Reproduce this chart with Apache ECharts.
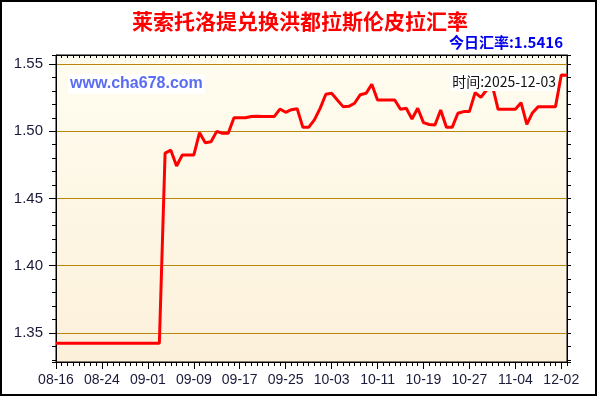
<!DOCTYPE html>
<html>
<head>
<meta charset="utf-8">
<script src="https://cdn.jsdelivr.net/npm/echarts@6/dist/echarts.min.js"></script>
<style>html,body{margin:0;padding:0;background:#fff;}#c{width:600px;height:400px;}</style>
</head>
<body>
<div id="c"></div>
<script>
var titleText = '莱索托洛提兑换洪都拉斯伦皮拉汇率';
var todayText = '今日汇率:1.5416';
var timeText = '时间:2025-12-03';
var siteText = 'www.cha678.com';

var dates = [
'08-16','08-17','08-18','08-19','08-20','08-21','08-22','08-23','08-24','08-25','08-26','08-27','08-28','08-29','08-30','08-31',
'09-01','09-02','09-03','09-04','09-05','09-06','09-07','09-08','09-09','09-10','09-11','09-12','09-13','09-14','09-15','09-16','09-17','09-18','09-19','09-20','09-21','09-22','09-23','09-24','09-25','09-26','09-27','09-28','09-29','09-30',
'10-01','10-02','10-03','10-04','10-05','10-06','10-07','10-08','10-09','10-10','10-11','10-12','10-13','10-14','10-15','10-16','10-17','10-18','10-19','10-20','10-21','10-22','10-23','10-24','10-25','10-26','10-27','10-28','10-29','10-30','10-31',
'11-01','11-02','11-03','11-04',
'11-25','11-26','11-27','11-28','11-29','11-30','12-01',
'12-02','12-03'
];

var rates = [
1.3423,1.3423,1.3423,1.3423,1.3423,1.3423,1.3423,1.3423,1.3423,1.3423,
1.3423,1.3423,1.3423,1.3423,1.3423,1.3423,1.3423,1.3423,1.3423,
1.4838,1.4859,1.4742,1.4823,1.4823,1.4823,1.4989,1.4915,1.4922,1.4999,
1.4985,1.4985,1.5101,1.5101,1.5101,1.5110,1.5112,1.5109,1.5109,1.5109,
1.5165,1.5141,1.5160,1.5168,1.5029,1.5029,1.5085,1.5170,1.5275,1.5282,
1.5232,1.5183,1.5185,1.5208,1.5272,1.5282,1.5349,1.5232,1.5232,1.5232,
1.5232,1.5163,1.5171,1.5091,1.5171,1.5064,1.5050,1.5047,1.5158,1.5029,
1.5029,1.5134,1.5146,1.5146,1.5287,1.5252,1.5307,1.5340,1.5163,1.5163,
1.5163,1.5163,1.5212,1.5051,1.5138,1.5183,1.5183,1.5183,1.5183,1.5418,
1.5416
];

var yMin = 1.3284, yMax = 1.5567;

var chart = echarts.init(document.getElementById('c'), null, {renderer: 'canvas'});
var numFont = '"Liberation Sans", Arial, sans-serif';
var cjkFont = '"Noto Sans CJK SC", sans-serif';
var labelColor = '#1a1a3a';

chart.setOption({
  animation: false,
  backgroundColor: '#fff',
  grid: {
    left: 56, right: 33, top: 55, bottom: 38,
    show: true,
    borderColor: '#000', borderWidth: 1,
    backgroundColor: new echarts.graphic.LinearGradient(0, 0, 0, 1, [
      {offset: 0, color: '#FFFDF0'},
      {offset: 1, color: '#FCF0DA'}
    ])
  },
  xAxis: [
    {
      type: 'category', position: 'bottom', data: dates, boundaryGap: false,
      axisLine: {show: true, lineStyle: {color: '#000', width: 1}},
      axisTick: {show: true, interval: 0, length: 4, lineStyle: {color: '#000'}},
      axisLabel: {interval: 7, margin: 11, color: labelColor, fontSize: 14, fontFamily: numFont},
      splitLine: {show: false}
    },
    {
      type: 'category', position: 'bottom', data: dates, boundaryGap: false,
      axisLine: {show: false},
      axisTick: {show: true, interval: 7, length: 7, lineStyle: {color: '#000'}},
      axisLabel: {show: false},
      splitLine: {show: false}
    },
    {
      type: 'category', position: 'top', data: dates, boundaryGap: false,
      axisLine: {show: true, lineStyle: {color: '#000'}},
      axisTick: {show: true, inside: true, interval: 0, length: 3, lineStyle: {color: '#000'}},
      axisLabel: {show: false},
      splitLine: {show: false}
    }
  ],
  yAxis: [
    {
      type: 'value', position: 'left', min: yMin, max: yMax, splitNumber: 5,
      axisLine: {show: true, lineStyle: {color: '#000'}},
      axisTick: {show: true, length: 7, lineStyle: {color: '#000'}},
      axisLabel: {
        showMinLabel: false, showMaxLabel: false, margin: 13,
        color: labelColor, fontSize: 15, fontFamily: numFont,
        formatter: function (v) { return v.toFixed(2); }
      },
      splitLine: {show: true, showMinLine: false, showMaxLine: false, lineStyle: {color: '#B8860B', width: 1}}
    },
    {
      type: 'value', position: 'left', min: yMin, max: yMax, minInterval: 0.01, maxInterval: 0.01,
      axisLine: {show: false},
      axisTick: {show: true, length: 4, lineStyle: {color: '#000'}},
      axisLabel: {show: false},
      splitLine: {show: false}
    },
    {
      type: 'value', position: 'right', min: yMin, max: yMax, minInterval: 0.01, maxInterval: 0.01,
      axisLine: {show: true, lineStyle: {color: '#000'}},
      axisTick: {show: true, length: 4, lineStyle: {color: '#000'}},
      axisLabel: {show: false},
      splitLine: {show: false}
    }
  ],
  series: [{
    type: 'line',
    xAxisIndex: 0, yAxisIndex: 0,
    data: rates,
    symbol: 'none',
    lineStyle: {color: '#FF0000', width: 3},
    z: 5
  }],
  graphic: [
    {
      type: 'rect', z: 200, silent: true,
      shape: {x: 1, y: 1, width: 595, height: 394},
      style: {fill: 'none', stroke: '#000', lineWidth: 2}
    },
    {
      type: 'text', z: 200, x: 300, y: 21,
      style: {text: titleText, fill: '#FF0000', font: 'bold 21px ' + cjkFont, textAlign: 'center', textVerticalAlign: 'middle'}
    },
    {
      type: 'text', z: 200, x: 563, y: 42,
      style: {text: todayText, fill: '#0000EE', font: 'bold 15px ' + cjkFont, textAlign: 'right', textVerticalAlign: 'middle'}
    },
    {
      type: 'text', z: 200, x: 68, y: 84,
      style: {text: siteText, fill: '#5A6CF0', font: 'bold 16px ' + numFont, textAlign: 'left', textVerticalAlign: 'middle',
        backgroundColor: '#fff', padding: [2, 2, 2, 2]}
    },
    {
      type: 'text', z: 200, x: 557, y: 82,
      style: {text: timeText, fill: '#111', font: '14px ' + cjkFont, textAlign: 'right', textVerticalAlign: 'middle',
        backgroundColor: '#fff', padding: [2, 1, 2, 2]}
    }
  ]
});
</script>
</body>
</html>
